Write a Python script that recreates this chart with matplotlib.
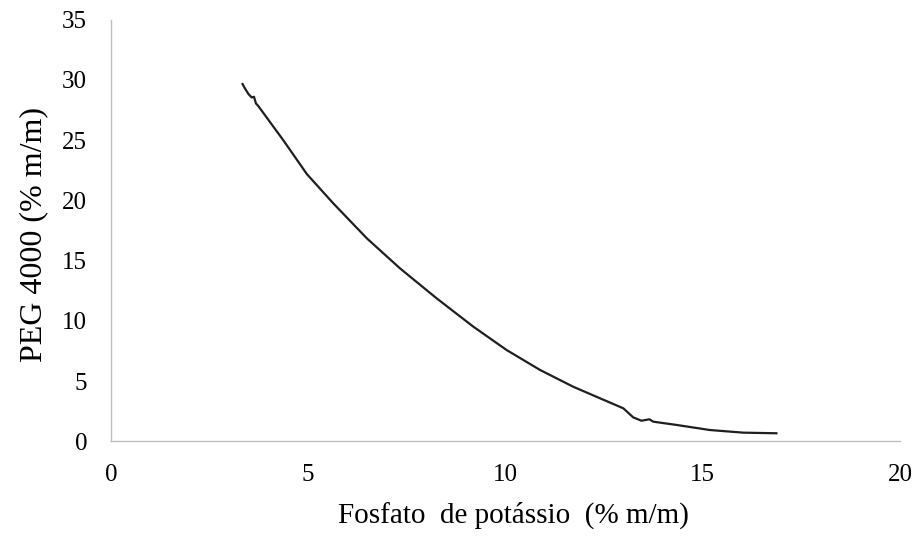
import matplotlib
matplotlib.use("Agg")
import matplotlib.pyplot as plt

# Binodal curve: potassium phosphate vs PEG 4000 (% m/m)
fosfato = [3.34, 3.40, 3.49, 3.57, 3.63, 3.68, 3.74, 4.37, 4.97, 5.64, 6.49,
           7.33, 8.26, 9.19, 10.03, 10.88, 11.72, 12.40, 12.99, 13.24, 13.45,
           13.65, 13.75, 14.34, 15.18, 16.03, 16.87]
peg = [29.65, 29.29, 28.82, 28.54, 28.59, 28.04, 27.82, 25.0, 22.18, 19.75,
       16.85, 14.36, 11.87, 9.52, 7.59, 5.93, 4.54, 3.58, 2.75, 2.0, 1.72,
       1.84, 1.64, 1.37, 0.95, 0.73, 0.68]

x_ticks = [0, 5, 10, 15, 20]
y_ticks = [0, 5, 10, 15, 20, 25, 30, 35]

plt.rcParams["font.family"] = ["Liberation Serif", "DejaVu Serif"]

fig = plt.figure(figsize=(9.23, 5.43), dpi=100)
ax = fig.add_axes([0.12, 0.187, 0.855, 0.777])

ax.plot(fosfato, peg, color="#1f1f1f", linewidth=1.6, solid_joinstyle="round")

ax.set_xlim(0, 20)
ax.set_ylim(0, 35)
ax.set_xticks(x_ticks)
ax.set_yticks(y_ticks)
ax.tick_params(axis="both", length=0, labelsize=18, colors="#000000")
ax.tick_params(axis="x", pad=16)
ax.tick_params(axis="y", pad=17)

for side in ("top", "right"):
    ax.spines[side].set_visible(False)
for side in ("left", "bottom"):
    ax.spines[side].set_color("#bfbfbf")
    ax.spines[side].set_linewidth(1.0)

ax.set_xlabel("Fosfato  de potássio  (% m/m)", fontsize=21)
ax.xaxis.label.set_va("center")
ax.xaxis.set_label_coords(0.51, -0.176)

ax.set_ylabel("PEG 4000 (% m/m)", fontsize=23)
ax.yaxis.label.set_va("center")
ax.yaxis.set_label_coords(-0.098, 0.49)

fig.savefig("out.png", dpi=100)
